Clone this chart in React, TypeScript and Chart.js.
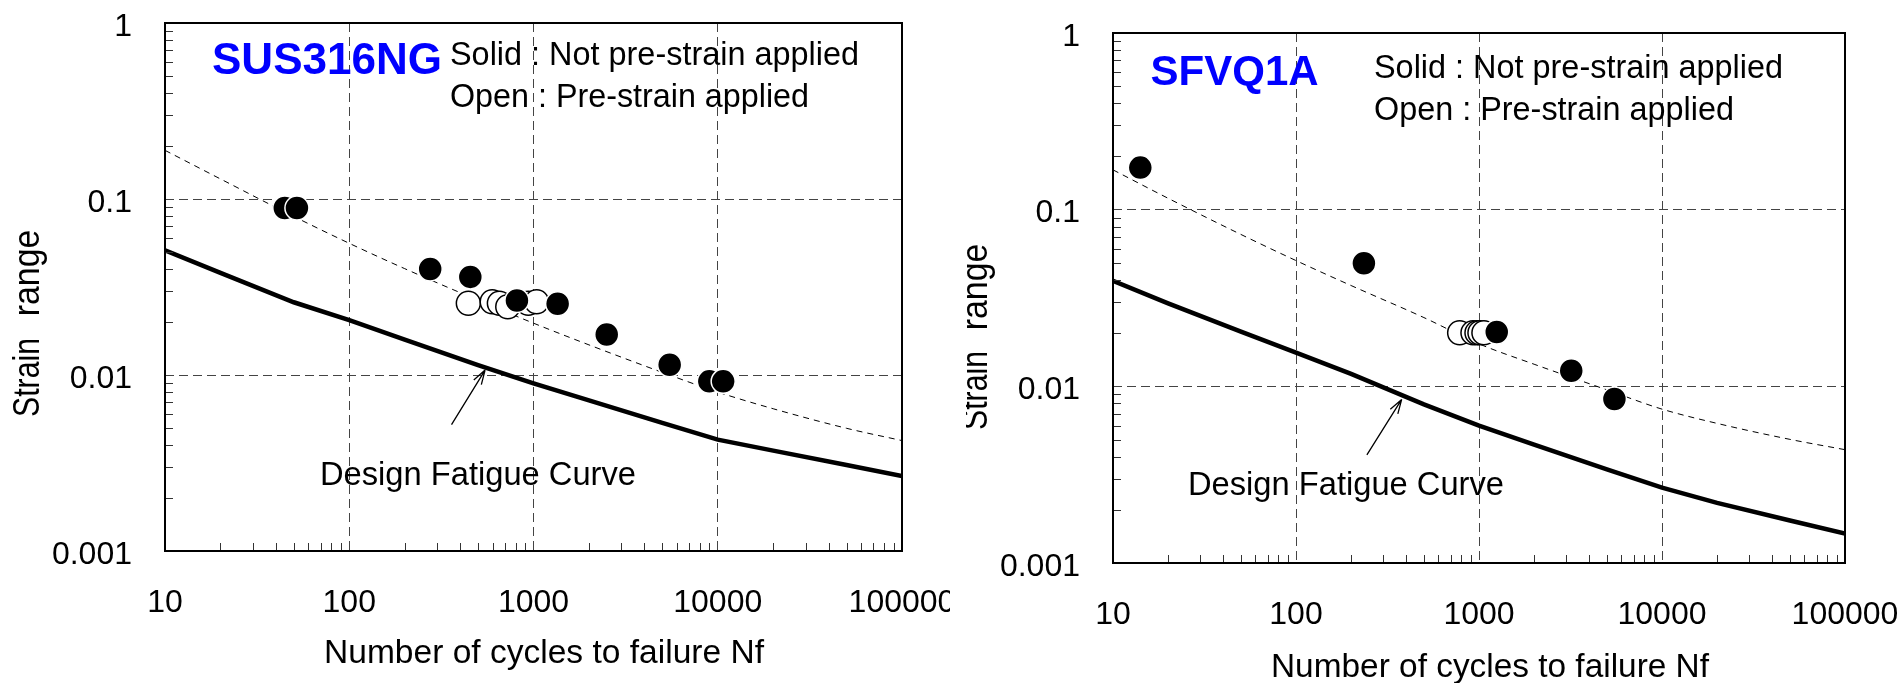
import React, { useEffect, useRef } from "react";
import { Chart, registerables } from "chart.js";

Chart.register(...registerables);

const FONT = "'Liberation Sans', Arial, Helvetica, sans-serif";

// ---------- shared axis values ----------
const xTickValues = [10, 100, 1000, 10000, 100000];
const yTickValues = [0.001, 0.01, 0.1, 1];
const curveN = [10, 20, 50, 100, 200, 500, 1000, 2000, 5000, 10000, 20000, 50000, 100000];

// ---------- SUS316NG (left) ----------
const susSolidN = [44.7, 52, 275, 454, 813, 1352, 2497, 5484, 9000, 10700];
const susSolidS = [0.0888, 0.0888, 0.04, 0.0361, 0.0265, 0.0254, 0.017, 0.01143, 0.0092, 0.0092];
const susOpenN = [443, 597, 653, 725, 937, 1040];
const susOpenS = [0.02555, 0.0261, 0.02555, 0.0244, 0.02555, 0.0261];
const susDesignS = [0.0511, 0.038, 0.0259, 0.0205, 0.0159, 0.01138, 0.00897, 0.00718, 0.00535, 0.00429, 0.00372, 0.00308, 0.00267];
const susFitS = [0.189, 0.13, 0.0796, 0.056, 0.0402, 0.0266, 0.0197, 0.01483, 0.01035, 0.008, 0.00643, 0.00498, 0.00424];
const susArrowN = [359, 546];
const susArrowS = [0.00523, 0.01067];

// ---------- SFVQ1A (right) ----------
const sfvSolidN = [14.1, 235, 1250, 3192, 5495];
const sfvSolidS = [0.173, 0.0497, 0.0203, 0.01225, 0.00847];
const sfvOpenN = [784, 927, 975, 1012, 1064];
const sfvOpenS = [0.0201, 0.0201, 0.0201, 0.0201, 0.0201];
const sfvDesignS = [0.0396, 0.0295, 0.0204, 0.0155, 0.01175, 0.0079, 0.006, 0.00468, 0.00339, 0.00267, 0.00219, 0.00174, 0.001466];
const sfvFitS = [0.168, 0.116, 0.0724, 0.0515, 0.0372, 0.0245, 0.0174, 0.01334, 0.00955, 0.00743, 0.00617, 0.00501, 0.00438];
const sfvArrowN = [244, 378];
const sfvArrowS = [0.00409, 0.00843];

// ---------- texts ----------
const solidText = "Solid : Not pre-strain applied";
const openText = "Open : Pre-strain applied";
const designText = "Design Fatigue Curve";
const xTitle = "Number of cycles to failure Nf";
const yTitleWords = ["Strain", "range"];

const pts = (xs: number[], ys: number[]) => xs.map((x, i) => ({ x, y: ys[i] }));

type Txt = { text: string; x: number; y: number; w: number; font: string; color: string; align: CanvasTextAlign; rotate?: boolean };

type Panel = {
  left: number;
  width: number;
  height: number;
  pad: { top: number; right: number };
  yAxisW: number;
  xAxisH: number;
  label: string;
  solidN: number[];
  solidS: number[];
  openN: number[];
  openS: number[];
  designS: number[];
  fitS: number[];
  arrowN: number[];
  arrowS: number[];
  texts: Txt[];
  clipLeft: number;
};

function fitText(ctx: CanvasRenderingContext2D, t: Txt) {
  ctx.save();
  ctx.font = t.font;
  ctx.fillStyle = t.color;
  ctx.textBaseline = "alphabetic";
  const nat = ctx.measureText(t.text).width;
  const sx = t.w / nat;
  ctx.translate(t.x, t.y);
  if (t.rotate) ctx.rotate(-Math.PI / 2);
  ctx.scale(sx, 1);
  ctx.textAlign = t.align;
  ctx.fillText(t.text, 0, 0);
  ctx.restore();
}

function makePlugin(p: Panel) {
  return {
    id: "decor",
    afterDatasetsDraw(chart: any) {
      const ctx: CanvasRenderingContext2D = chart.ctx;
      const ca = chart.chartArea;
      const sx = chart.scales.x;
      const sy = chart.scales.y;
      ctx.save();
      // minor ticks (inward)
      ctx.strokeStyle = "#333";
      ctx.lineWidth = 1;
      ctx.beginPath();
      for (let d = 1; d < 5; d++) {
        for (let m = 2; m <= 9; m++) {
          const v = m * Math.pow(10, d);
          const px = Math.round(sx.getPixelForValue(v)) + 0.5;
          ctx.moveTo(px, ca.bottom);
          ctx.lineTo(px, ca.bottom - 8);
        }
      }
      for (let d = -3; d < 0; d++) {
        for (let m = 2; m <= 9; m++) {
          const v = m * Math.pow(10, d);
          const py = Math.round(sy.getPixelForValue(v)) + 0.5;
          ctx.moveTo(ca.left, py);
          ctx.lineTo(ca.left + 8, py);
        }
      }
      ctx.stroke();
      // frame
      ctx.strokeStyle = "#000";
      ctx.lineWidth = 2;
      ctx.strokeRect(ca.left, ca.top, ca.right - ca.left, ca.bottom - ca.top);
      // arrow
      const x1 = sx.getPixelForValue(p.arrowN[0]);
      const y1 = sy.getPixelForValue(p.arrowS[0]);
      const x2 = sx.getPixelForValue(p.arrowN[1]);
      const y2 = sy.getPixelForValue(p.arrowS[1]);
      const ang = Math.atan2(y2 - y1, x2 - x1);
      ctx.lineWidth = 1.3;
      ctx.beginPath();
      ctx.moveTo(x1, y1);
      ctx.lineTo(x2, y2);
      for (const s of [-0.3, 0.3]) {
        ctx.moveTo(x2, y2);
        ctx.lineTo(x2 - 15 * Math.cos(ang + s), y2 - 15 * Math.sin(ang + s));
      }
      ctx.stroke();
      ctx.restore();
    },
    afterDraw(chart: any) {
      const ctx: CanvasRenderingContext2D = chart.ctx;
      ctx.save();
      ctx.beginPath();
      ctx.rect(p.clipLeft, 0, p.width, p.height);
      ctx.clip();
      for (const t of p.texts) fitText(ctx, t);
      ctx.restore();
    },
  };
}

function makeConfig(p: Panel): any {
  return {
    type: "scatter",
    data: {
      datasets: [
        {
          type: "line",
          data: pts(curveN, p.designS),
          borderColor: "#000",
          borderWidth: 4.5,
          pointRadius: 0,
          tension: 0,
          fill: false,
          order: 3,
        },
        {
          type: "line",
          data: pts(curveN, p.fitS),
          borderColor: "#000",
          borderWidth: 1,
          borderDash: [6, 5],
          pointRadius: 0,
          cubicInterpolationMode: "monotone",
          fill: false,
          order: 2,
        },
        {
          data: pts(p.openN, p.openS),
          pointRadius: 12,
          backgroundColor: "#fff",
          borderColor: "#000",
          borderWidth: 1.5,
          order: 1,
        },
        {
          data: pts(p.solidN, p.solidS),
          pointRadius: 12,
          backgroundColor: "#000",
          borderColor: "#fff",
          borderWidth: 1.5,
          order: 0,
        },
      ],
    },
    options: {
      responsive: false,
      maintainAspectRatio: false,
      devicePixelRatio: 1,
      animation: false,
      events: [],
      layout: { padding: { left: 0, top: p.pad.top, right: p.pad.right, bottom: 0 } },
      plugins: { legend: { display: false }, tooltip: { enabled: false }, title: { display: false } },
      scales: {
        x: {
          type: "logarithmic",
          position: "bottom",
          min: 10,
          max: 100000,
          afterBuildTicks: (s: any) => {
            s.ticks = xTickValues.map((v) => ({ value: v }));
          },
          afterFit: (s: any) => {
            s.height = p.xAxisH;
            s.paddingLeft = 0;
            s.paddingRight = 0;
          },
          ticks: {
            autoSkip: false,
            maxRotation: 0,
            minRotation: 0,
            padding: 33,
            color: "#000",
            font: { family: FONT, size: 32 },
            callback: (v: any) => String(v),
          },
          grid: { color: "#444", lineWidth: 1, drawTicks: false, borderDash: [9, 5] },
          border: { display: false, dash: [9, 5] },
        },
        y: {
          type: "logarithmic",
          position: "left",
          min: 0.001,
          max: 1,
          afterBuildTicks: (s: any) => {
            s.ticks = yTickValues.map((v) => ({ value: v }));
          },
          afterFit: (s: any) => {
            s.width = p.yAxisW;
            s.paddingTop = 0;
            s.paddingBottom = 0;
          },
          ticks: {
            autoSkip: false,
            padding: 33,
            labelOffset: 4,
            color: "#000",
            font: { family: FONT, size: 32 },
            callback: (v: any) => String(v),
          },
          grid: { color: "#444", lineWidth: 1, drawTicks: false, borderDash: [9, 5] },
          border: { display: false, dash: [9, 5] },
        },
      },
    },
    plugins: [makePlugin(p)],
  };
}

const reg = `34px ${FONT}`;
const ytf = `37px ${FONT}`;

const leftPanel: Panel = {
  left: 0,
  width: 950,
  height: 683,
  pad: { top: 23, right: 48 },
  yAxisW: 165,
  xAxisH: 132,
  label: "SUS316NG",
  solidN: susSolidN,
  solidS: susSolidS,
  openN: susOpenN,
  openS: susOpenS,
  designS: susDesignS,
  fitS: susFitS,
  arrowN: susArrowN,
  arrowS: susArrowS,
  clipLeft: 0,
  texts: [
    { text: "SUS316NG", x: 212, y: 74, w: 230, font: `bold 44px ${FONT}`, color: "#0000ff", align: "left" },
    { text: solidText, x: 450, y: 65, w: 409, font: reg, color: "#000", align: "left" },
    { text: openText, x: 450, y: 106.5, w: 359, font: reg, color: "#000", align: "left" },
    { text: designText, x: 320, y: 484.5, w: 316, font: reg, color: "#000", align: "left" },
    { text: xTitle, x: 324, y: 663, w: 440, font: reg, color: "#000", align: "left" },
    { text: yTitleWords[0], x: 39.3, y: 377.5, w: 79, font: ytf, color: "#000", align: "center", rotate: true },
    { text: yTitleWords[1], x: 39.3, y: 273, w: 86.7, font: ytf, color: "#000", align: "center", rotate: true },
  ],
};

const rightPanel: Panel = {
  left: 950,
  width: 953,
  height: 683,
  pad: { top: 33, right: 58 },
  yAxisW: 163,
  xAxisH: 120,
  label: "SFVQ1A",
  solidN: sfvSolidN,
  solidS: sfvSolidS,
  openN: sfvOpenN,
  openS: sfvOpenS,
  designS: sfvDesignS,
  fitS: sfvFitS,
  arrowN: sfvArrowN,
  arrowS: sfvArrowS,
  clipLeft: 16,
  texts: [
    { text: "SFVQ1A", x: 200.6, y: 84.9, w: 168, font: `bold 42px ${FONT}`, color: "#0000ff", align: "left" },
    { text: solidText, x: 424, y: 78.4, w: 409, font: reg, color: "#000", align: "left" },
    { text: openText, x: 424, y: 119.5, w: 360, font: reg, color: "#000", align: "left" },
    { text: designText, x: 238, y: 495, w: 316, font: reg, color: "#000", align: "left" },
    { text: xTitle, x: 321, y: 677, w: 438, font: reg, color: "#000", align: "left" },
    { text: yTitleWords[0], x: 37.3, y: 390.5, w: 79, font: ytf, color: "#000", align: "center", rotate: true },
    { text: yTitleWords[1], x: 37.3, y: 287, w: 86.7, font: ytf, color: "#000", align: "center", rotate: true },
  ],
};

function ChartCanvas({ panel }: { panel: Panel }) {
  const ref = useRef<HTMLCanvasElement | null>(null);
  useEffect(() => {
    if (!ref.current) return;
    const chart = new Chart(ref.current, makeConfig(panel));
    return () => chart.destroy();
  }, [panel]);
  return (
    <canvas
      ref={ref}
      width={panel.width}
      height={panel.height}
      style={{ position: "absolute", left: panel.left, top: 0, width: panel.width, height: panel.height }}
    />
  );
}

export default function App() {
  return (
    <div style={{ position: "absolute", left: 0, top: 0, width: 1903, height: 683, background: "#fff", overflow: "hidden" }}>
      <ChartCanvas panel={leftPanel} />
      <ChartCanvas panel={rightPanel} />
    </div>
  );
}
